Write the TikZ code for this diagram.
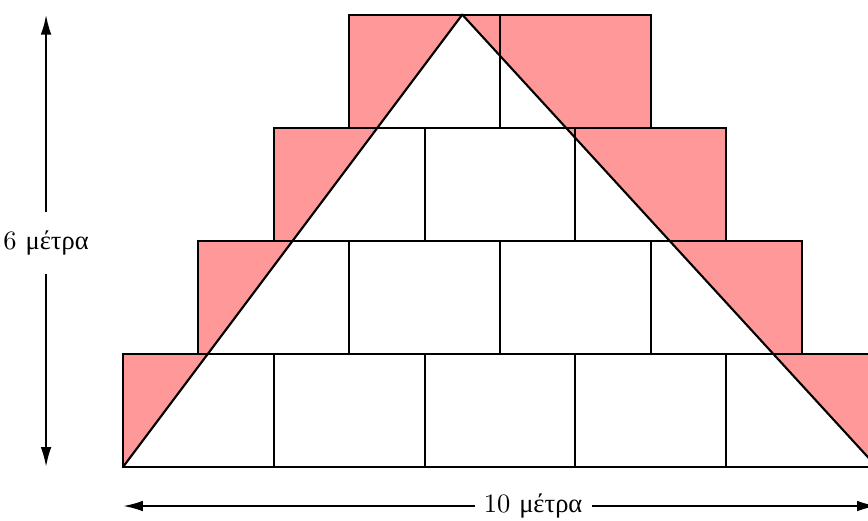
\documentclass[tikz,border=0pt]{standalone}
\usepackage{fontspec}
\newfontfamily\greekfont{Liberation Serif}
\usetikzlibrary{arrows.meta}

\begin{document}
\begin{tikzpicture}[
    brick/.style={draw,thick},
    waste/.style={fill=red!40},
    measure/.style={thick,-{Latex[length=7.5pt,width=4pt]}}
  ]
  \useasboundingbox (-1.631,-0.703) rectangle (9.881,6.194);
  \foreach \row in {0,...,3}{
    \pgfmathtruncatemacro{\last}{4-\row}
    \foreach \col in {0,...,\last}
      \fill[waste] ({\row+2*\col},{1.5*\row}) rectangle ++(2,1.5);
  }
  \coordinate (left) at (0,0);
  \coordinate (apex) at (4.5,6);
  \coordinate (right) at (10,0);
  \fill[white] (left) -- (apex) -- (right) -- cycle;
  \foreach \row in {0,...,3}{
    \pgfmathtruncatemacro{\last}{4-\row}
    \foreach \col in {0,...,\last}
      \draw[brick] ({\row+2*\col},{1.5*\row}) rectangle ++(2,1.5);
  }
  \draw[thick,line join=round] (left) -- (apex) -- (right);

  \coordinate (hbot) at (-1.02,0);
  \coordinate (htop) at (-1.02,6);
  \node[inner sep=0pt,minimum height=0.81cm] (heightlabel) at (-1.02,2.97) {6 {\greekfont μέτρα}};
  \draw[measure] (heightlabel.north) -- (htop);
  \draw[measure] (heightlabel.south) -- (hbot);

  \coordinate (wleft) at (0,-0.517);
  \coordinate (wright) at (10,-0.517);
  \node[inner sep=0pt,minimum width=1.54cm] (widthlabel) at (5.44,-0.517) {10 {\greekfont μέτρα}};
  \draw[measure] (widthlabel.west) -- (wleft);
  \draw[measure] (widthlabel.east) -- (wright);
\end{tikzpicture}
\end{document}
